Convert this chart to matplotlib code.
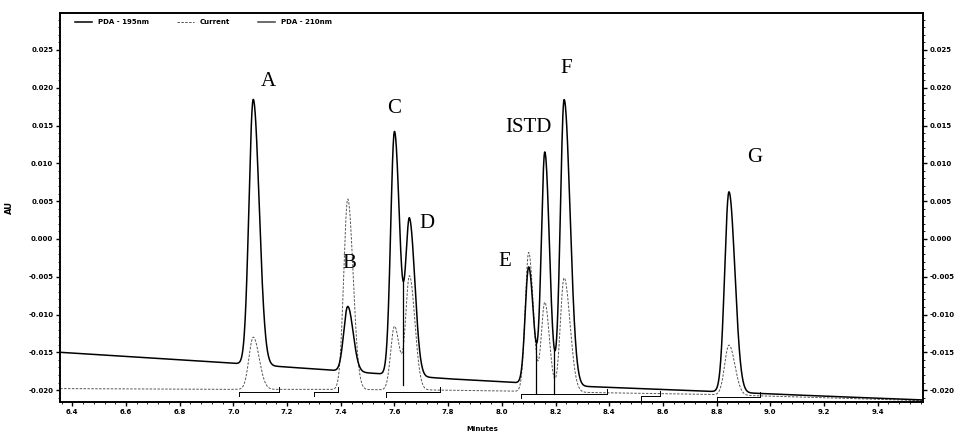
import matplotlib.pyplot as plt
import numpy as np
from matplotlib.ticker import MultipleLocator, FormatStrFormatter, AutoMinorLocator
from matplotlib.lines import Line2D

plt.rcParams['axes.unicode_minus'] = False

# 峰表 (保留时间 min, 峰高 AU, 左/右宽度)
peak_names = ['A', 'B', 'C', 'D', 'E', 'ISTD', 'F', 'G']
peak_rt = [7.074, 7.426, 7.600, 7.656, 8.100, 8.160, 8.232, 8.846]
h_195 = [0.0351, 0.0086, 0.0322, 0.0205, 0.0154, 0.0307, 0.0378, 0.0265]
h_210 = [0.0069, 0.0252, 0.0084, 0.0150, 0.0184, 0.0118, 0.0151, 0.0066]
sig_left = [0.016, 0.015, 0.014, 0.014, 0.013, 0.013, 0.014, 0.016]
sig_right = [0.022, 0.020, 0.019, 0.020, 0.017, 0.017, 0.022, 0.022]

# 基线漂移
base_t = [6.355, 6.9, 7.3, 7.8, 8.3, 8.8, 9.2, 9.567]
base_195 = [-0.0150, -0.0162, -0.0172, -0.0185, -0.0195, -0.0202, -0.0208, -0.0213]
base_210 = [-0.0198, -0.0199, -0.0199, -0.0200, -0.0203, -0.0206, -0.0210, -0.0214]

# 峰标签位置
label_x = [7.13, 7.43, 7.60, 7.72, 8.01, 8.10, 8.24, 8.94]
label_y = [0.0208, -0.0032, 0.0173, 0.0020, -0.0030, 0.0148, 0.0226, 0.0108]

# 积分区间 (210nm)
integ_210 = [(7.02, 7.17), (7.30, 7.39), (7.57, 7.77), (8.07, 8.39), (8.52, 8.59), (8.80, 8.96)]
drop_195 = [7.632, 8.128, 8.196]


def trace(t, base_vals, heights):
    y = np.interp(t, base_t, base_vals)
    for rt, h, sl, sr in zip(peak_rt, heights, sig_left, sig_right):
        s = np.where(t < rt, sl, sr)
        y = y + h * np.exp(-0.5 * ((t - rt) / s) ** 2)
    return y


t = np.linspace(6.355, 9.567, 4000)
y195 = trace(t, base_195, h_195)
y210 = trace(t, base_210, h_210)

fig = plt.figure(figsize=(9.56, 4.32), dpi=100)
ax = fig.add_axes([0.063, 0.069, 0.902, 0.901])

ax.plot(t, y210, color='#555555', lw=0.7, ls=(0, (2.5, 1.5)))
ax.plot(t, y195, color='black', lw=1.1)

# 积分标记
for t0, t1 in integ_210:
    yb = np.interp(t0, base_t, base_210) - 0.0003
    ax.plot([t0, t1], [yb, yb], color='black', lw=0.7)
    ax.plot([t0, t0], [yb, yb - 0.0006], color='black', lw=0.7)
    ax.plot([t1, t1], [yb, yb + 0.0006], color='black', lw=0.7)
for td in drop_195:
    yb = np.interp(td, base_t, base_195)
    yv = np.interp(td, t, y195)
    ax.plot([td, td], [yb - 0.0012, yv], color='black', lw=0.9)

for name, lx, ly in zip(peak_names, label_x, label_y):
    ax.text(lx, ly, name, ha='center', va='center', fontsize=15,
            family='Liberation Serif')

ax.set_xlim(6.355, 9.567)
ax.set_ylim(-0.0216, 0.0299)
ax.xaxis.set_major_locator(MultipleLocator(0.2))
ax.xaxis.set_minor_locator(AutoMinorLocator(5))
ax.xaxis.set_major_formatter(FormatStrFormatter('%.1f'))
ax.yaxis.set_major_locator(MultipleLocator(0.005))
ax.yaxis.set_minor_locator(AutoMinorLocator(5))
ax.yaxis.set_major_formatter(FormatStrFormatter('%.3f'))
ax.tick_params(labelsize=5, width=1, length=3, pad=2)
ax.tick_params(which='minor', length=1.5)
for lab in ax.get_xticklabels() + ax.get_yticklabels():
    lab.set_fontweight('bold')
ax.set_ylabel('AU', fontsize=6, fontweight='bold', labelpad=10)
ax.set_xlabel('Minutes', fontsize=5, fontweight='bold')
ax.xaxis.set_label_coords(0.49, -0.06)

ax2 = ax.twinx()
ax2.set_ylim(ax.get_ylim())
ax2.yaxis.set_major_locator(MultipleLocator(0.005))
ax2.yaxis.set_minor_locator(AutoMinorLocator(5))
ax2.yaxis.set_major_formatter(FormatStrFormatter('%.3f'))
ax2.tick_params(labelsize=5, width=1, length=3, pad=2)
ax2.tick_params(which='minor', length=1.5)
for lab in ax2.get_yticklabels():
    lab.set_fontweight('bold')

for a in (ax, ax2):
    for sp in a.spines.values():
        sp.set_linewidth(1.2)

handles = [Line2D([], [], color='black', lw=1.1),
           Line2D([], [], color='#555555', lw=0.7, ls=(0, (2.5, 1.5))),
           Line2D([], [], color='#444444', lw=1.1)]
ax.legend(handles, ['PDA - 195nm', 'Current', 'PDA - 210nm'], loc='upper left',
          bbox_to_anchor=(0.01, 1.0), ncol=3, frameon=False, columnspacing=4,
          prop={'size': 5, 'weight': 'bold'}, handlelength=2.5)

fig.savefig('out.png', dpi=100)
